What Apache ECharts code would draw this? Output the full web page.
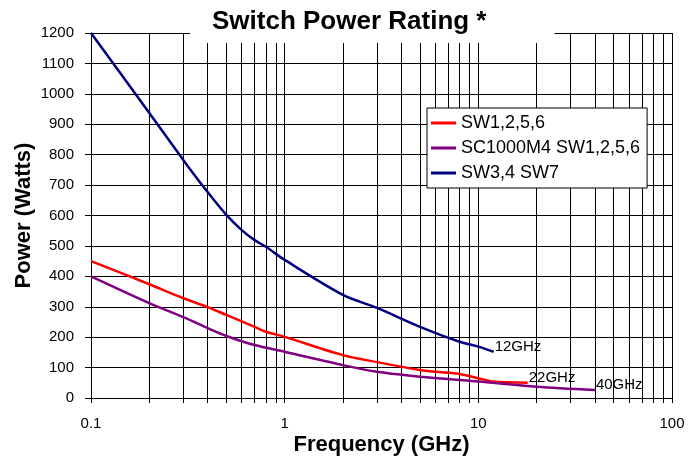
<!DOCTYPE html>
<html>
<head>
<meta charset="utf-8">
<script src="https://cdn.jsdelivr.net/npm/echarts@6/dist/echarts.min.js"></script>
<style>
  html, body { margin: 0; padding: 0; background: #fff; }
  #chart { width: 700px; height: 456px; }
</style>
</head>
<body>
<div id="chart"></div>
<script>
// values
const seriesNames = ['SW1,2,5,6', 'SC1000M4 SW1,2,5,6', 'SW3,4 SW7'];
const endLabels = ['22GHz', '40GHz', '12GHz'];

const redFreq = [0.1, 0.2, 0.3, 0.4, 0.5, 0.6, 0.7, 0.8, 1, 2, 3, 5, 6, 8, 10, 12, 18];
const redPower = [450, 374, 328, 299, 273, 252, 234, 218, 201, 141, 118, 92, 86, 79, 65, 54, 50];

const purpleFreq = [0.1, 0.2, 0.3, 0.4, 0.5, 0.7, 1, 2, 3, 5, 10, 20, 40];
const purplePower = [400, 312, 266, 230, 204, 174, 152, 108, 86, 70, 54, 37, 26];

const blueFreq = [0.1, 0.2, 0.3, 0.4, 0.5, 0.6, 0.7, 0.8, 1, 2, 3, 5, 8, 10, 12];
const bluePower = [1200, 937, 782, 677, 602, 552, 519, 497, 454, 339, 296, 234, 185, 169, 152];

const colors = ['#ff0000', '#800080', '#000080'];

function pairs(xs, ys) {
    return xs.map((x, i) => [x, ys[i]]);
}

const chart = echarts.init(document.getElementById('chart'));

const font = 'Arial, "Liberation Sans", sans-serif';

function makeSeries(i, data) {
    return {
        name: seriesNames[i],
        type: 'line',
        data: data,
        smooth: 0.3,
        symbol: 'none',
        lineStyle: { color: colors[i], width: 2.5 },
        itemStyle: { color: colors[i] },
        endLabel: {
            show: true,
            formatter: endLabels[i],
            color: '#000',
            fontFamily: font,
            fontSize: 15,
            distance: 1,
            offset: [0, -5]
        },
        z: 3
    };
}

const option = {
    backgroundColor: '#fff',
    animation: false,
    textStyle: { fontFamily: font },
    title: {
        text: 'Switch Power Rating *',
        left: 190,
        top: 0,
        padding: [8, 68, 8, 22],
        backgroundColor: '#fff',
        textStyle: { fontSize: 26, fontWeight: 'bold', color: '#000', fontFamily: font, lineHeight: 27 },
        z: 10
    },
    legend: {
        data: seriesNames,
        orient: 'vertical',
        left: 427,
        top: 108,
        width: 220,
        padding: [6, 7, 6, 4],
        backgroundColor: '#fff',
        borderColor: '#000',
        borderWidth: 1,
        itemWidth: 25,
        itemHeight: 3,
        itemGap: 7,
        icon: 'rect',
        selectedMode: false,
        textStyle: { fontSize: 18, color: '#000', fontFamily: font, padding: [0, 0, 0, 0], lineHeight: 17 }
    },
    grid: { left: 91, right: 28, top: 33, bottom: 58, containLabel: false, outerBoundsMode: 'none' },
    xAxis: {
        type: 'log',
        logBase: 10,
        min: 0.1,
        max: 100,
        name: 'Frequency (GHz)',
        nameLocation: 'middle',
        nameGap: 36,
        nameMoveOverlap: false,
        nameTextStyle: { fontSize: 22, fontWeight: 'bold', color: '#000', fontFamily: font },
        axisLine: { show: true, lineStyle: { color: '#000', width: 1 } },
        axisTick: { show: true, inside: false, length: 5, lineStyle: { color: '#000' } },
        minorTick: { show: true, splitNumber: 9, length: 5, lineStyle: { color: '#000' } },
        splitLine: { show: true, lineStyle: { color: '#000', width: 1 } },
        minorSplitLine: { show: true, lineStyle: { color: '#000', width: 1 } },
        axisLabel: { fontSize: 15, color: '#000', margin: 18, fontFamily: font }
    },
    yAxis: {
        type: 'value',
        min: 0,
        max: 1200,
        interval: 100,
        name: 'Power (Watts)',
        nameLocation: 'middle',
        nameGap: 56,
        nameMoveOverlap: false,
        nameTextStyle: { fontSize: 22, fontWeight: 'bold', color: '#000', fontFamily: font },
        axisLine: { show: true, lineStyle: { color: '#000', width: 1 } },
        axisTick: { show: true, length: 6, lineStyle: { color: '#000' } },
        splitLine: { show: true, lineStyle: { color: '#000', width: 1 } },
        axisLabel: { fontSize: 15, color: '#000', margin: 17, fontFamily: font, formatter: v => String(v) }
    },
    series: [
        makeSeries(0, pairs(redFreq, redPower)),
        makeSeries(1, pairs(purpleFreq, purplePower)),
        makeSeries(2, pairs(blueFreq, bluePower))
    ]
};

chart.setOption(option);
</script>
</body>
</html>
